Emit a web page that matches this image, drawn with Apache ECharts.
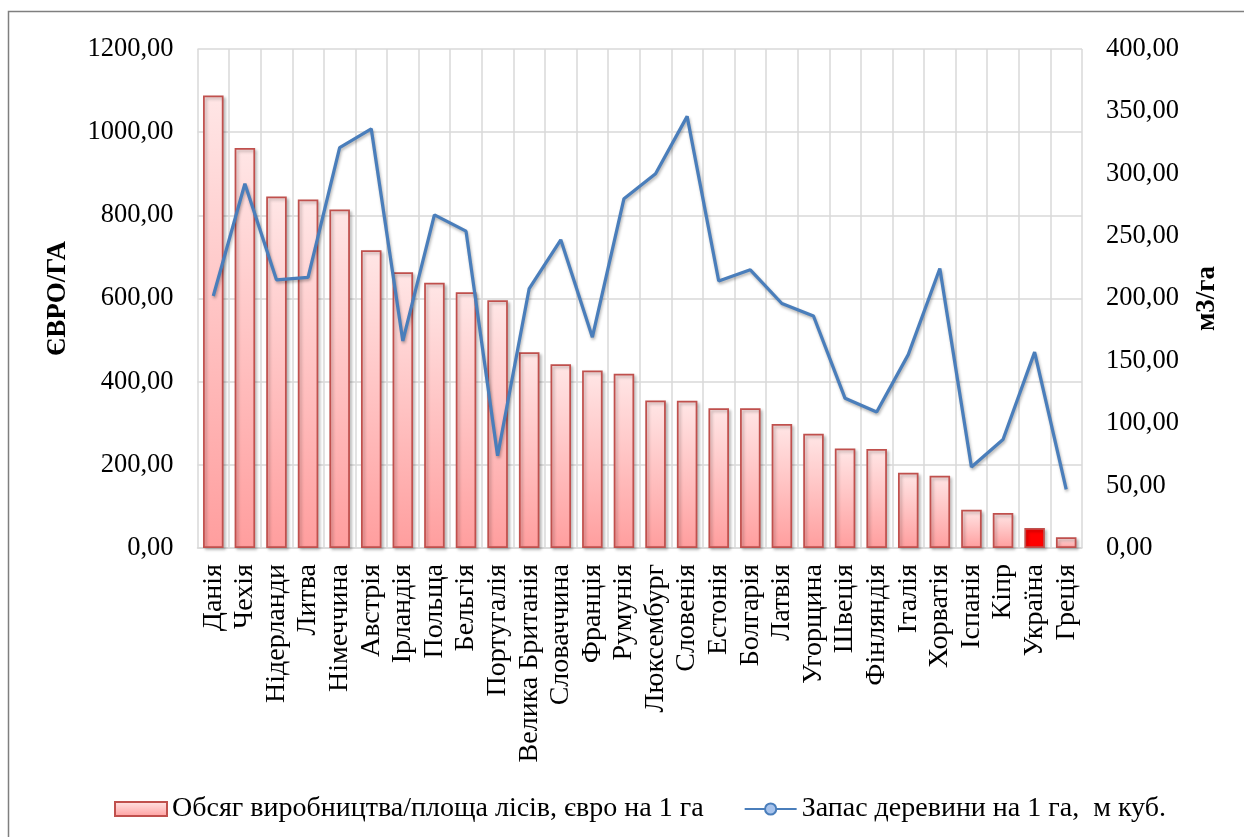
<!DOCTYPE html>
<html>
<head>
<meta charset="utf-8">
<script src="https://cdn.jsdelivr.net/npm/echarts@6/dist/echarts.min.js"></script>
<style>
  html, body { margin: 0; padding: 0; background: #ffffff; }
  #chart { width: 1244px; height: 837px; }
</style>
</head>
<body>
<div id="chart"></div>
<script>
// Countries along the category axis
const countries = ['Данія', 'Чехія', 'Нідерланди', 'Литва', 'Німеччина', 'Австрія', 'Ірландія',
  'Польща', 'Бельгія', 'Португалія', 'Велика Британія', 'Словаччина', 'Франція', 'Румунія',
  'Люксембург', 'Словенія', 'Естонія', 'Болгарія', 'Латвія', 'Угорщина', 'Швеція', 'Фінляндія',
  'Італія', 'Хорватія', 'Іспанія', 'Кіпр', 'Україна', 'Греція'];

// Output per forest area, euro per ha (left axis)
const outputPerHa = [1088, 962, 845, 838, 814, 716, 663, 638, 615, 596, 471, 442, 427, 419,
  355, 354, 336, 336, 298, 275, 239, 238, 181, 174, 92, 84, 48, 26];

// Growing stock, m3 per ha (right axis)
const stockPerHa = [202, 292, 215, 217, 321, 336, 166, 267, 254, 74, 208, 247, 169, 280,
  300, 346, 214, 223, 196, 186, 120, 109, 155, 224, 65, 87, 157, 47];

// Axis ticks
const leftTicks = { min: 0, max: 1200, step: 200 };
const rightTicks = { min: 0, max: 400, step: 50 };

const seriesNames = ['Обсяг виробництва/площа лісів, євро на 1 га', 'Запас деревини на 1 га,  м куб.'];
const highlighted = 'Україна';

const FONT = "'Liberation Serif', 'Times New Roman', serif";
const fmt = v => v.toFixed(2).replace('.', ',');

const barFill = new echarts.graphic.LinearGradient(0, 0, 0, 1, [
  { offset: 0, color: '#ffe6e6' },
  { offset: 1, color: '#ff9e9e' }
]);

const barData = outputPerHa.map((v, i) => countries[i] === highlighted
  ? { value: v, itemStyle: { color: '#ff0000' } }
  : v);

const chart = echarts.init(document.getElementById('chart'), null, { renderer: 'canvas' });

chart.setOption({
  animation: false,
  backgroundColor: '#ffffff',
  textStyle: { fontFamily: FONT },
  graphic: [{
    type: 'rect',
    shape: { x: 8.5, y: 11.5, width: 1300, height: 900 },
    style: { fill: 'none', stroke: '#7f7f7f', lineWidth: 1.5 },
    silent: true,
    z: -10
  }],
  grid: { left: 197.5, right: 162, top: 49, bottom: 289, containLabel: false },
  legend: {
    left: 109,
    top: 788,
    itemWidth: 52,
    itemHeight: 14,
    itemGap: 40,
    textStyle: { fontFamily: FONT, fontSize: 28, color: '#000000', lineHeight: 32 },
    data: [
      { name: seriesNames[0], icon: 'rect' },
      { name: seriesNames[1] }
    ]
  },
  xAxis: {
    type: 'category',
    data: countries,
    boundaryGap: true,
    axisLine: { show: true, lineStyle: { color: '#d9d9d9', width: 1.5 } },
    axisTick: { show: false },
    splitLine: { show: true, interval: 0, lineStyle: { color: '#d9d9d9', width: 1.5 } },
    axisLabel: {
      interval: 0,
      rotate: 90,
      margin: 16,
      fontFamily: FONT,
      fontSize: 28,
      color: '#000000'
    }
  },
  yAxis: [{
    type: 'value',
    min: leftTicks.min,
    max: leftTicks.max,
    interval: leftTicks.step,
    name: 'ЄВРО/ГА',
    nameLocation: 'middle',
    nameGap: 126,
    nameTextStyle: { fontFamily: FONT, fontSize: 27, fontWeight: 'bold', color: '#000000' },
    axisLine: { show: false },
    axisTick: { show: false },
    splitLine: { show: true, lineStyle: { color: '#d9d9d9', width: 1.5 } },
    axisLabel: { formatter: fmt, margin: 24, fontFamily: FONT, fontSize: 26.5, color: '#000000' }
  }, {
    type: 'value',
    min: rightTicks.min,
    max: rightTicks.max,
    interval: rightTicks.step,
    name: 'м3/га',
    nameLocation: 'middle',
    nameGap: 112,
    nameTextStyle: { fontFamily: FONT, fontSize: 27, fontWeight: 'bold', color: '#000000' },
    axisLine: { show: false },
    axisTick: { show: false },
    splitLine: { show: false },
    axisLabel: { formatter: fmt, margin: 24, fontFamily: FONT, fontSize: 26.5, color: '#000000' }
  }],
  series: [{
    name: seriesNames[0],
    type: 'bar',
    yAxisIndex: 0,
    data: barData,
    barWidth: '65%',
    itemStyle: {
      color: barFill,
      borderColor: '#c0504d',
      borderWidth: 1.75,
      shadowColor: 'rgba(0,0,0,0.25)',
      shadowBlur: 3,
      shadowOffsetX: 2,
      shadowOffsetY: 2
    }
  }, {
    name: seriesNames[1],
    type: 'line',
    yAxisIndex: 1,
    data: stockPerHa,
    symbol: 'circle',
    symbolSize: 10,
    showSymbol: false,
    lineStyle: {
      color: '#4a7ebb',
      width: 3.25,
      shadowColor: 'rgba(0,0,0,0.3)',
      shadowBlur: 3,
      shadowOffsetX: 1,
      shadowOffsetY: 2
    },
    itemStyle: { color: '#a7c3ec', borderColor: '#4a7ebb', borderWidth: 1.5 },
    z: 3
  }]
});
</script>
</body>
</html>
